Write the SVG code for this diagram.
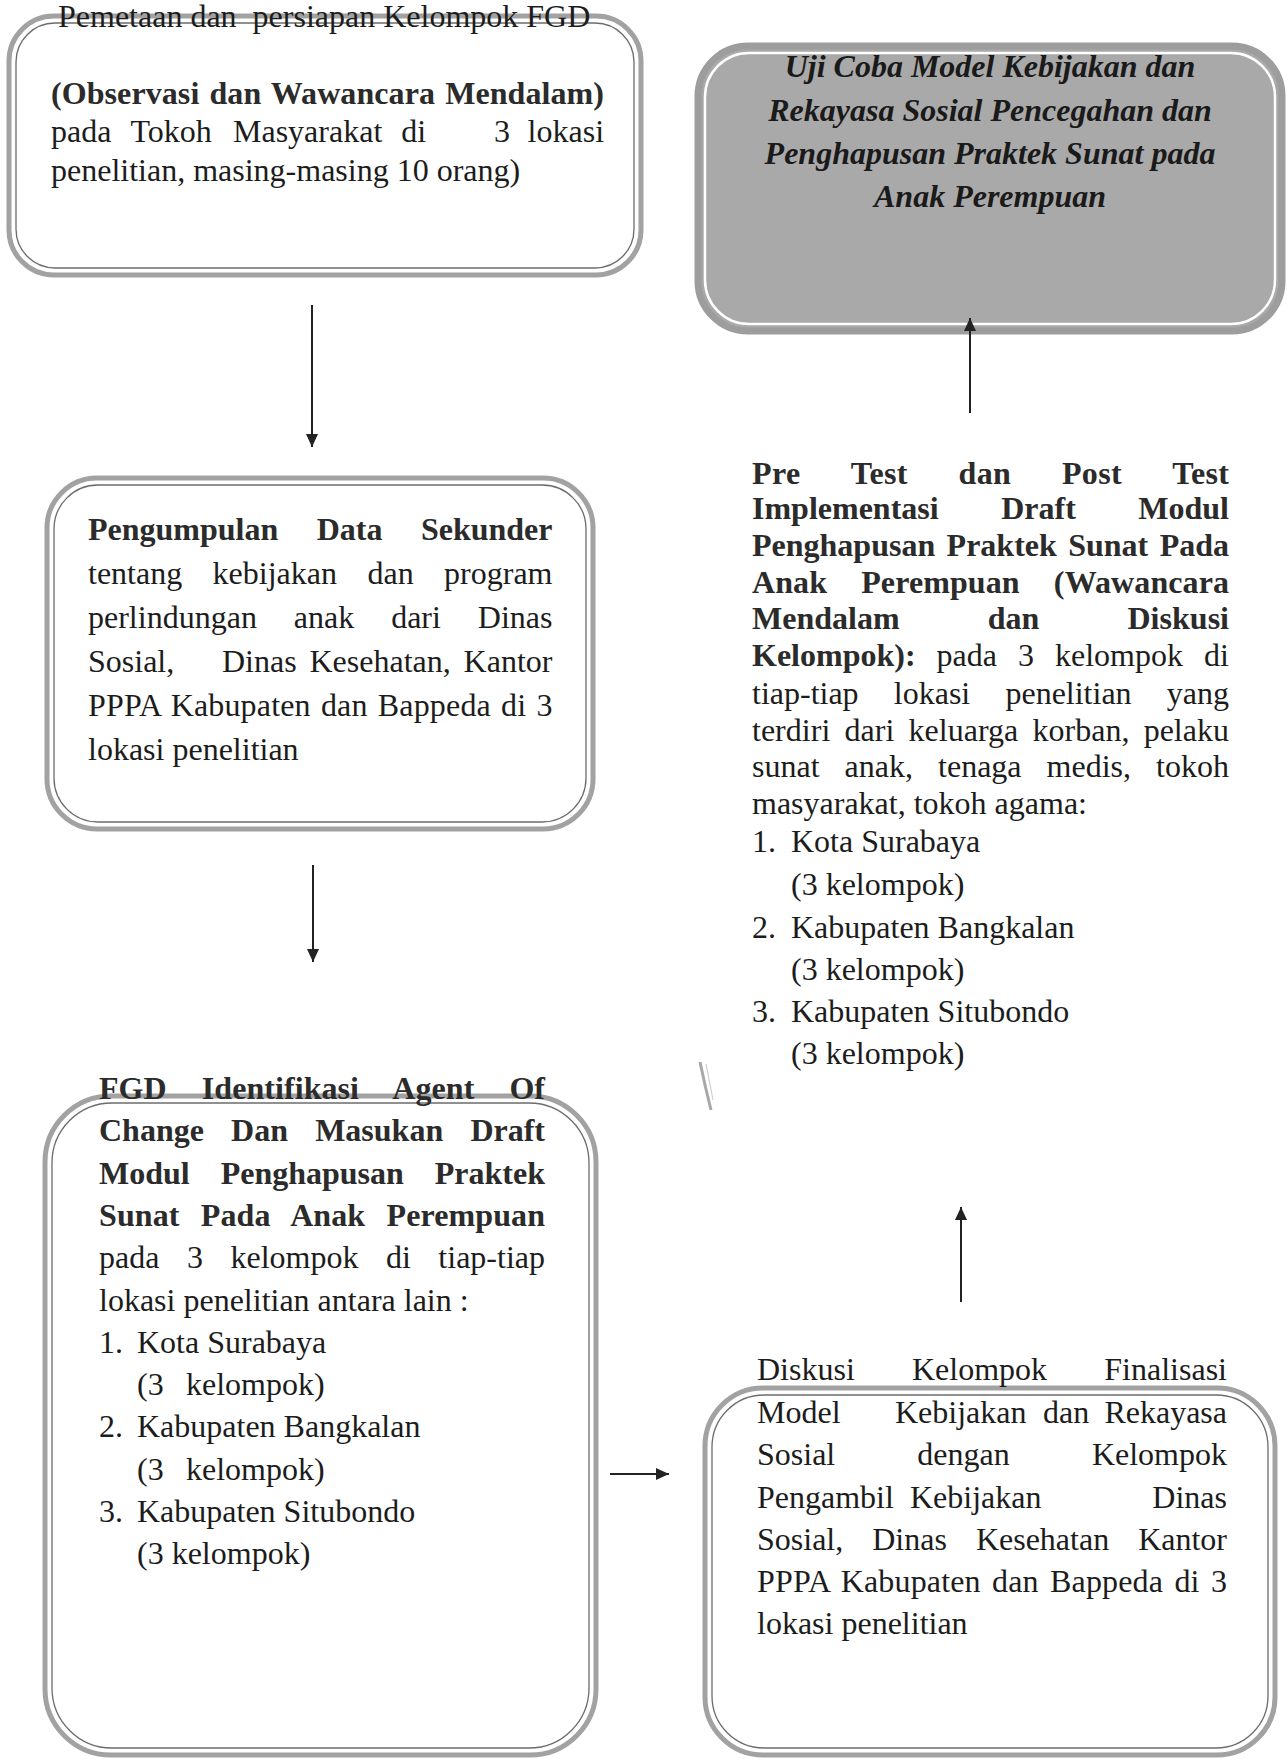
<svg xmlns="http://www.w3.org/2000/svg" width="1288" height="1760" viewBox="0 0 1288 1760">
<style>
.bg{fill:#ffffff}
.outer{fill:#ffffff;stroke:#a2a2a2;stroke-width:5}
.inner{fill:none;stroke:#6c6c6c;stroke-width:1.3}
.outerG{fill:#a9a9a9;stroke:#9d9d9d;stroke-width:7}
.innerG{fill:none;stroke:#ffffff;stroke-width:2.5}
text{font-family:"Liberation Serif","Times New Roman",serif;font-size:32px;fill:#1c1c1c}
.b{font-weight:bold;fill:#2b2b2b}
.bi{font-weight:bold;font-style:italic;fill:#1a1a1a}
.conn{stroke:#222;stroke-width:2;fill:none}
</style>
<defs>
<marker id="ah" markerUnits="userSpaceOnUse" markerWidth="14" markerHeight="12" refX="13" refY="6" orient="auto">
<path d="M0,0 L13,6 L0,12 z" fill="#222"/>
</marker>
</defs>
<rect class="bg" x="0" y="0" width="1288" height="1760"/>

<g id="node-pemetaan">
<rect class="outer" x="9" y="16" width="632" height="259" rx="45"/>
<rect class="inner" x="16" y="23" width="618" height="245" rx="39"/>
<text x="58" y="27" xml:space="preserve">Pemetaan dan  persiapan Kelompok FGD</text>
<text class="b" x="51" y="104" word-spacing="2" textLength="553" lengthAdjust="spacing">(Observasi dan Wawancara Mendalam)</text>
<text y="142"><tspan x="51">pada</tspan><tspan x="130.4">Tokoh</tspan><tspan x="233">Masyarakat</tspan><tspan x="401.3">di</tspan><tspan x="494">3</tspan><tspan x="527.6">lokasi</tspan></text>
<text x="51" y="181">penelitian, masing-masing 10 orang)</text>
</g>

<g id="node-ujicoba">
<rect class="outerG" x="698" y="46" width="584" height="285" rx="50"/>
<rect class="innerG" x="705" y="53" width="570" height="271" rx="44"/>
<text class="bi" x="990" y="77" text-anchor="middle">Uji Coba Model Kebijakan dan</text>
<text class="bi" x="990" y="121" text-anchor="middle">Rekayasa Sosial Pencegahan dan</text>
<text class="bi" x="990" y="164" text-anchor="middle">Penghapusan Praktek Sunat pada</text>
<text class="bi" x="990" y="207" text-anchor="middle">Anak Perempuan</text>
</g>

<g id="node-sekunder">
<rect class="outer" x="47" y="478" width="546" height="351" rx="50"/>
<rect class="inner" x="54" y="485" width="532" height="337" rx="44"/>
<text class="b" x="88" y="540" word-spacing="30.5" textLength="464.5" lengthAdjust="spacing">Pengumpulan Data Sekunder</text>
<text x="88" y="584" word-spacing="22.4" textLength="464.5" lengthAdjust="spacing">tentang kebijakan dan program</text>
<text x="88" y="628" word-spacing="28.9" textLength="464.5" lengthAdjust="spacing">perlindungan anak dari Dinas</text>
<text y="672"><tspan x="88">Sosial,</tspan><tspan x="222">Dinas</tspan><tspan x="309.5">Kesehatan,</tspan><tspan x="463.6">Kantor</tspan></text>
<text x="88" y="716" word-spacing="2" textLength="464.5" lengthAdjust="spacing">PPPA Kabupaten dan Bappeda di 3</text>
<text x="88" y="760">lokasi penelitian</text>
</g>

<g id="node-fgd">
<rect class="outer" x="45" y="1096" width="551" height="659" rx="66"/>
<rect class="inner" x="52" y="1103" width="537" height="645" rx="60"/>
<text class="b" x="99" y="1099" word-spacing="26.9" textLength="446" lengthAdjust="spacing">FGD Identifikasi Agent Of</text>
<text class="b" x="99" y="1141" word-spacing="19.2" textLength="446" lengthAdjust="spacing">Change Dan Masukan Draft</text>
<text class="b" x="99" y="1184" word-spacing="23" textLength="446" lengthAdjust="spacing">Modul Penghapusan Praktek</text>
<text class="b" x="99" y="1226" word-spacing="13.2" textLength="446" lengthAdjust="spacing">Sunat Pada Anak Perempuan</text>
<text x="99" y="1268" word-spacing="19.5" textLength="446" lengthAdjust="spacing">pada 3 kelompok di tiap-tiap</text>
<text x="99" y="1311">lokasi penelitian antara lain :</text>
<text y="1353"><tspan x="99">1.</tspan><tspan x="137">Kota Surabaya</tspan></text>
<text y="1395"><tspan x="137">(3</tspan><tspan x="186">kelompok)</tspan></text>
<text y="1437"><tspan x="99">2.</tspan><tspan x="137">Kabupaten Bangkalan</tspan></text>
<text y="1480"><tspan x="137">(3</tspan><tspan x="186">kelompok)</tspan></text>
<text y="1522"><tspan x="99">3.</tspan><tspan x="137">Kabupaten Situbondo</tspan></text>
<text x="137" y="1564">(3 kelompok)</text>
</g>

<g id="node-pretest">
<text class="b" x="752" y="484" word-spacing="42.4" textLength="477" lengthAdjust="spacing">Pre Test dan Post Test</text>
<text class="b" x="752" y="519" word-spacing="54.5" textLength="477" lengthAdjust="spacing">Implementasi Draft Modul</text>
<text class="b" x="752" y="556" word-spacing="3.4" textLength="477" lengthAdjust="spacing">Penghapusan Praktek Sunat Pada</text>
<text class="b" x="752" y="593" word-spacing="26" textLength="477" lengthAdjust="spacing">Anak Perempuan (Wawancara</text>
<text class="b" x="752" y="629" word-spacing="80" textLength="477" lengthAdjust="spacing">Mendalam dan Diskusi</text>
<text x="752" y="666" word-spacing="13"><tspan class="b">Kelompok):</tspan> pada 3 kelompok di</text>
<text x="752" y="704" word-spacing="27.2" textLength="477" lengthAdjust="spacing">tiap-tiap lokasi penelitian yang</text>
<text x="752" y="741" word-spacing="6.2" textLength="477" lengthAdjust="spacing">terdiri dari keluarga korban, pelaku</text>
<text x="752" y="777" word-spacing="17" textLength="477" lengthAdjust="spacing">sunat anak, tenaga medis, tokoh</text>
<text x="752" y="814">masyarakat, tokoh agama:</text>
<text y="852"><tspan x="752">1.</tspan><tspan x="791">Kota Surabaya</tspan></text>
<text x="791" y="895">(3 kelompok)</text>
<text y="938"><tspan x="752">2.</tspan><tspan x="791">Kabupaten Bangkalan</tspan></text>
<text x="791" y="980">(3 kelompok)</text>
<text y="1022"><tspan x="752">3.</tspan><tspan x="791">Kabupaten Situbondo</tspan></text>
<text x="791" y="1064">(3 kelompok)</text>
</g>

<g id="node-diskusi">
<rect class="outer" x="705" y="1388" width="570" height="367" rx="58"/>
<rect class="inner" x="712" y="1395" width="556" height="353" rx="52"/>
<text x="757" y="1380" word-spacing="49.2" textLength="470" lengthAdjust="spacing">Diskusi Kelompok Finalisasi</text>
<text y="1423"><tspan x="757">Model</tspan><tspan x="895">Kebijakan</tspan><tspan x="1043">dan</tspan><tspan x="1104.4">Rekayasa</tspan></text>
<text x="757" y="1465" word-spacing="74.1" textLength="470" lengthAdjust="spacing">Sosial dengan Kelompok</text>
<text y="1508"><tspan x="757">Pengambil</tspan><tspan x="910">Kebijakan</tspan><tspan x="1152.3">Dinas</tspan></text>
<text x="757" y="1550" word-spacing="21" textLength="470" lengthAdjust="spacing">Sosial, Dinas Kesehatan Kantor</text>
<text x="757" y="1592" word-spacing="3.2" textLength="470" lengthAdjust="spacing">PPPA Kabupaten dan Bappeda di 3</text>
<text x="757" y="1634">lokasi penelitian</text>
</g>

<g id="connectors">
<line class="conn" x1="312" y1="305" x2="312" y2="447" marker-end="url(#ah)"/>
<line class="conn" x1="313" y1="865" x2="313" y2="962" marker-end="url(#ah)"/>
<line class="conn" x1="610" y1="1474" x2="669" y2="1474" marker-end="url(#ah)"/>
<line class="conn" x1="961" y1="1302" x2="961" y2="1207" marker-end="url(#ah)"/>
<line class="conn" x1="970" y1="413" x2="970" y2="318" marker-end="url(#ah)"/>
</g>

<path d="M700 1062 Q705 1086 711 1110" stroke="#a8a8a8" stroke-width="3" fill="none"/>
<path d="M706 1064 Q710 1084 713 1100" stroke="#cfcfcf" stroke-width="1.2" fill="none"/>
</svg>
